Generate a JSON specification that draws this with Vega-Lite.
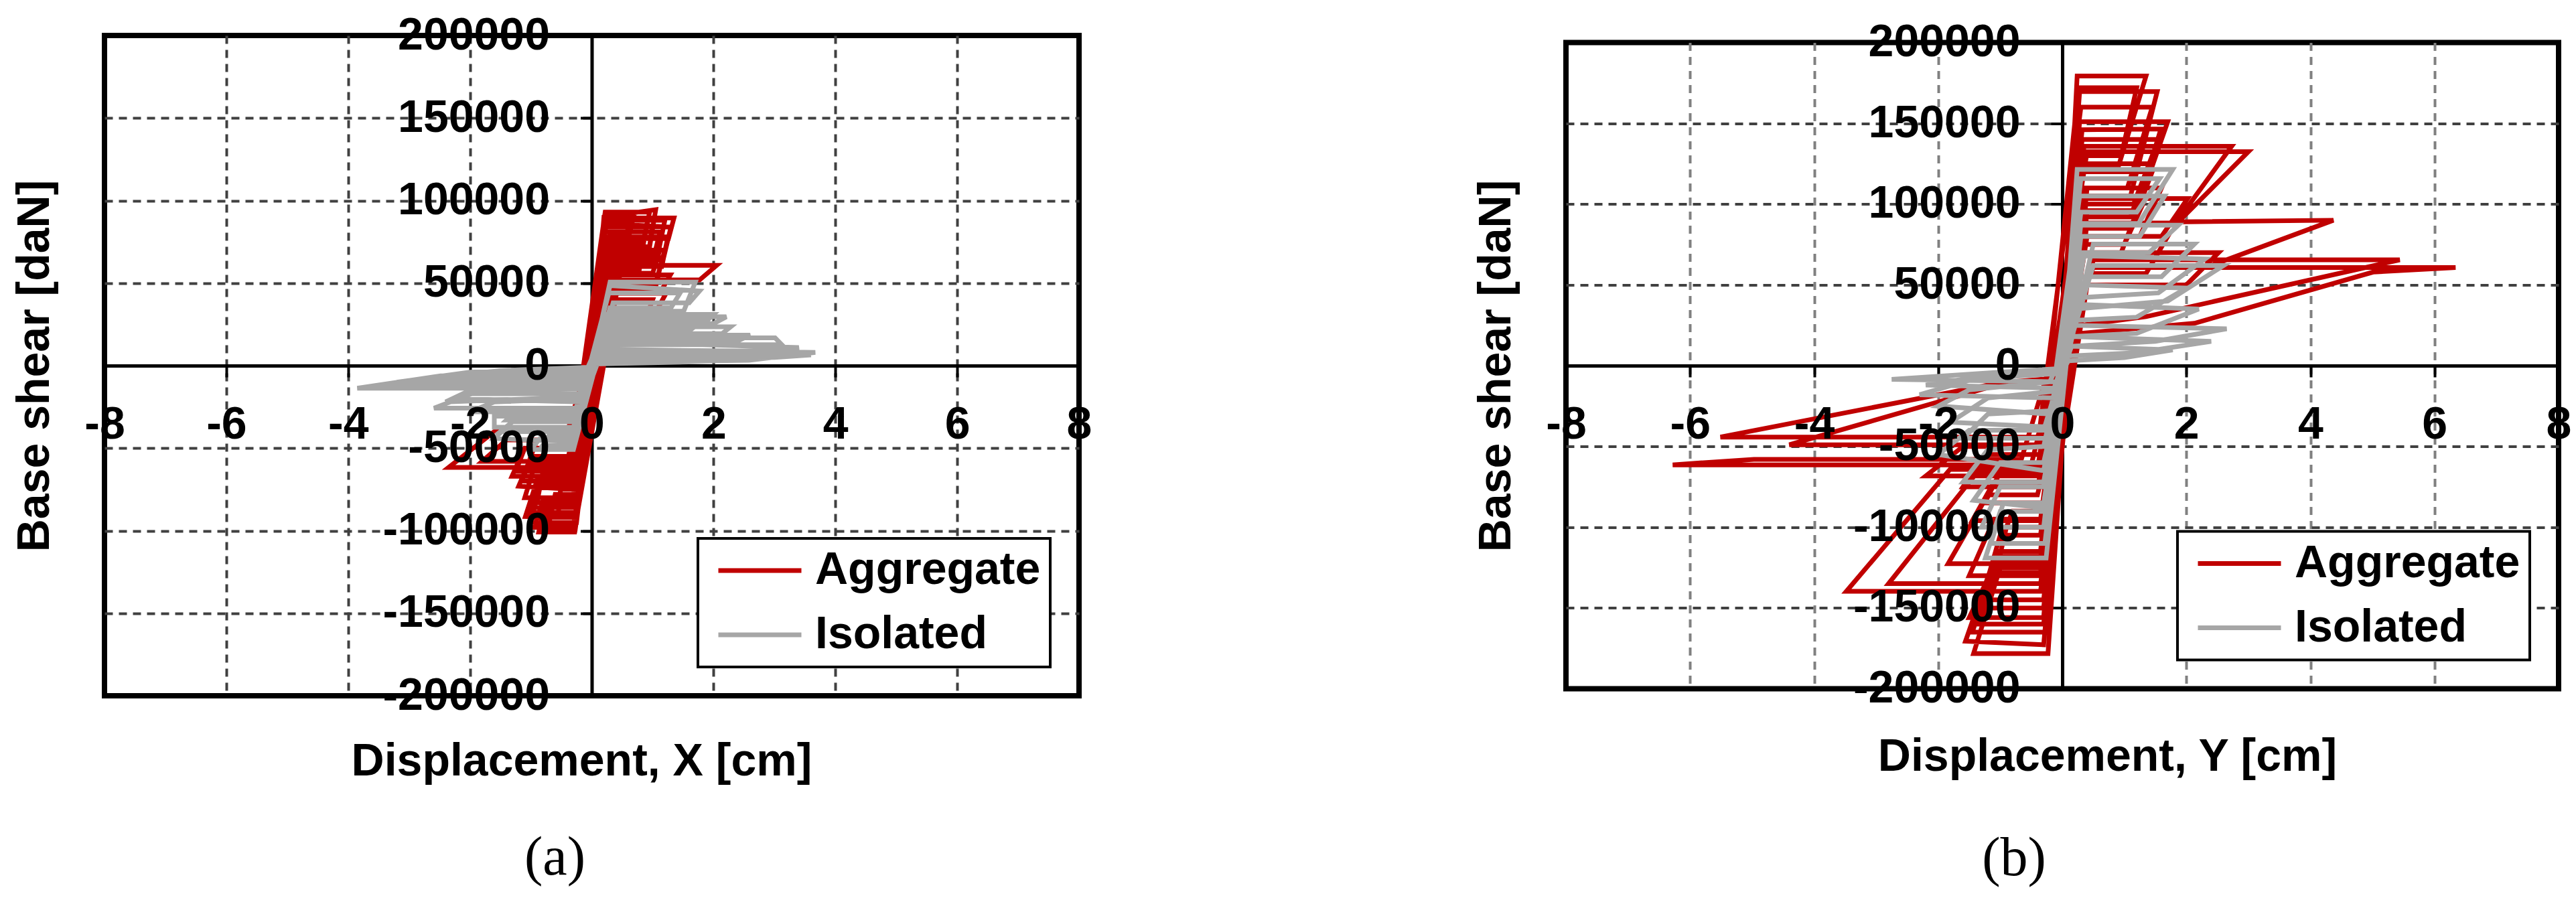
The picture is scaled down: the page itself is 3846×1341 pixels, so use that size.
{
 "$schema": "https://vega.github.io/schema/vega-lite/v6.json",
 "background": "white",
 "padding": {"left": 14, "top": 15, "right": 0, "bottom": 0},
 "config": {
  "view": {"stroke": "black", "strokeWidth": 8},
  "font": "Liberation Sans",
  "legend": {"orient": "bottom-right", "offset": 43, "title": null, "symbolType": "stroke", "symbolSize": 15376, "symbolStrokeWidth": 7, "symbolOffset": 13, "clipHeight": 68, "labelFont": "Liberation Sans", "labelFontSize": 68, "labelFontWeight": "bold", "labelColor": "black", "labelOffset": 17, "rowPadding": 28, "padding": 14, "strokeColor": "black", "strokeWidth": 4, "fillColor": "white", "labelLimit": 0}
 },
 "datasets": {
  "aA": [
   {"i":0,"x":0,"y":0},
   {"i":1,"x":0.20,"y":90000},{"i":2,"x":1.05,"y":94500},{"i":3,"x":0.95,"y":72000},{"i":4,"x":0.40,"y":72000},{"i":5,"x":-0.28,"y":-100800},{"i":6,"x":-0.87,"y":-100800},{"i":7,"x":-0.75,"y":-80000},{"i":8,"x":-0.30,"y":-80000},
   {"i":9,"x":0.22,"y":89500},{"i":10,"x":1.35,"y":89500},{"i":11,"x":1.26,"y":77000},{"i":12,"x":0.45,"y":77000},{"i":13,"x":-0.30,"y":-97000},{"i":14,"x":-1.00,"y":-95000},{"i":15,"x":-0.85,"y":-72000},{"i":16,"x":-0.32,"y":-72000},
   {"i":17,"x":0.22,"y":86000},{"i":18,"x":1.30,"y":84000},{"i":19,"x":1.18,"y":65400},{"i":20,"x":0.35,"y":65400},{"i":21,"x":-0.25,"y":-92000},{"i":22,"x":-1.09,"y":-91400},{"i":23,"x":-0.90,"y":-69800},{"i":24,"x":-0.35,"y":-69800},
   {"i":25,"x":0.20,"y":81000},{"i":26,"x":1.12,"y":81000},{"i":27,"x":1.00,"y":63000},{"i":28,"x":0.50,"y":63000},{"i":29,"x":-0.22,"y":-86000},{"i":30,"x":-0.95,"y":-86000},{"i":31,"x":-0.80,"y":-66000},{"i":32,"x":-0.30,"y":-66000},
   {"i":33,"x":0.28,"y":60700},{"i":34,"x":2.05,"y":60700},{"i":35,"x":1.77,"y":51900},{"i":36,"x":0.40,"y":51900},{"i":37,"x":-0.30,"y":-67000},{"i":38,"x":-1.31,"y":-67000},{"i":39,"x":-1.20,"y":-58000},{"i":40,"x":-0.40,"y":-58000},
   {"i":41,"x":0.25,"y":55000},{"i":42,"x":1.29,"y":55000},{"i":43,"x":1.15,"y":46000},{"i":44,"x":0.30,"y":46000},{"i":45,"x":-0.25,"y":-61700},{"i":46,"x":-2.35,"y":-61700},{"i":47,"x":-1.60,"y":-40000},{"i":48,"x":-0.40,"y":-40000},
   {"i":49,"x":0.27,"y":43800},{"i":50,"x":1.22,"y":43800},{"i":51,"x":1.08,"y":34400},{"i":52,"x":0.27,"y":34400},{"i":53,"x":-0.30,"y":-80000},{"i":54,"x":-1.10,"y":-80000},{"i":55,"x":-0.95,"y":-62000},{"i":56,"x":-0.40,"y":-62000},
   {"i":57,"x":0.24,"y":74000},{"i":58,"x":0.85,"y":74000},{"i":59,"x":0.78,"y":58000},{"i":60,"x":0.30,"y":58000},{"i":61,"x":-0.30,"y":-55000},{"i":62,"x":-1.00,"y":-55000},{"i":63,"x":-0.90,"y":-45000},{"i":64,"x":-0.30,"y":-45000},
   {"i":65,"x":0.22,"y":92000},{"i":66,"x":0.70,"y":92000},{"i":67,"x":0.62,"y":80000},{"i":68,"x":0.30,"y":80000},{"i":69,"x":-0.25,"y":-95000},{"i":70,"x":-0.70,"y":-95000},{"i":71,"x":-0.60,"y":-78000},{"i":72,"x":-0.30,"y":-78000},
   {"i":73,"x":0.25,"y":68000},{"i":74,"x":1.10,"y":68000},{"i":75,"x":1.00,"y":56000},{"i":76,"x":0.40,"y":56000},{"i":77,"x":-0.28,"y":-75000},{"i":78,"x":-1.20,"y":-73000},{"i":79,"x":-1.05,"y":-60000},{"i":80,"x":-0.35,"y":-60000},
   {"i":81,"x":0.21,"y":88000},{"i":82,"x":1.20,"y":88000},{"i":83,"x":1.10,"y":70000},{"i":84,"x":0.35,"y":70000},{"i":85,"x":-0.27,"y":-99000},{"i":86,"x":-0.80,"y":-99000},{"i":87,"x":-0.70,"y":-84000},{"i":88,"x":-0.30,"y":-84000},
   {"i":89,"x":0.23,"y":84000},{"i":90,"x":1.00,"y":84000},{"i":91,"x":0.92,"y":66000},{"i":92,"x":0.40,"y":66000},{"i":93,"x":-0.26,"y":-89000},{"i":94,"x":-1.02,"y":-89000},{"i":95,"x":-0.88,"y":-74000},{"i":96,"x":-0.30,"y":-74000},
   {"i":97,"x":0.24,"y":78000},{"i":98,"x":1.25,"y":78000},{"i":99,"x":1.15,"y":60000},{"i":100,"x":0.30,"y":60000},{"i":101,"x":-0.30,"y":-83000},{"i":102,"x":-0.90,"y":-83000},{"i":103,"x":-0.80,"y":-64000},{"i":104,"x":-0.35,"y":-64000},
   {"i":105,"x":0.25,"y":70000},{"i":106,"x":1.20,"y":70000},{"i":107,"x":1.05,"y":50000},{"i":108,"x":0.30,"y":50000},{"i":109,"x":-0.30,"y":-70000},{"i":110,"x":-1.15,"y":-70000},{"i":111,"x":-1.00,"y":-56000},{"i":112,"x":-0.35,"y":-56000},
   {"i":113,"x":0.22,"y":93000},{"i":114,"x":0.95,"y":93000},{"i":115,"x":0.85,"y":76000},{"i":116,"x":0.35,"y":76000},{"i":117,"x":-0.28,"y":-98000},{"i":118,"x":-0.95,"y":-98000},{"i":119,"x":-0.80,"y":-82000},{"i":120,"x":-0.30,"y":-82000},
   {"i":121,"x":0.26,"y":64000},{"i":122,"x":1.15,"y":64000},{"i":123,"x":1.05,"y":48000},{"i":124,"x":0.30,"y":48000},{"i":125,"x":-0.30,"y":-64000},{"i":126,"x":-1.25,"y":-64000},{"i":127,"x":-1.10,"y":-50000},{"i":128,"x":-0.35,"y":-50000},
   {"i":129,"x":0.24,"y":87000},{"i":130,"x":0.60,"y":87000},{"i":131,"x":0.55,"y":62000},{"i":132,"x":0.25,"y":62000},{"i":133,"x":-0.25,"y":-90000},{"i":134,"x":-0.55,"y":-90000},{"i":135,"x":-0.50,"y":-70000},{"i":136,"x":-0.28,"y":-70000},
   {"i":137,"x":0.28,"y":40000},{"i":138,"x":1.00,"y":40000},{"i":139,"x":0.90,"y":30000},{"i":140,"x":0.25,"y":30000},{"i":141,"x":-0.25,"y":-58000},{"i":142,"x":-1.80,"y":-58000},{"i":143,"x":-1.40,"y":-45000},{"i":144,"x":-0.30,"y":-45000},
   {"i":145,"x":0,"y":0}
  ],
  "aI": [
   {"i":0,"x":0,"y":0},
   {"i":1,"x":0.30,"y":50600},{"i":2,"x":1.70,"y":50600},{"i":3,"x":1.51,"y":33000},{"i":4,"x":0.30,"y":33000},{"i":5,"x":-0.30,"y":-50800},{"i":6,"x":-1.00,"y":-50800},{"i":7,"x":-0.85,"y":-44100},{"i":8,"x":-0.30,"y":-44100},
   {"i":9,"x":0.30,"y":48500},{"i":10,"x":1.77,"y":45200},{"i":11,"x":1.60,"y":38000},{"i":12,"x":0.35,"y":38000},{"i":13,"x":-0.30,"y":-46000},{"i":14,"x":-1.60,"y":-44100},{"i":15,"x":-1.40,"y":-37300},{"i":16,"x":-0.30,"y":-37300},
   {"i":17,"x":0.28,"y":44000},{"i":18,"x":1.45,"y":44000},{"i":19,"x":1.30,"y":35000},{"i":20,"x":0.30,"y":35000},{"i":21,"x":-0.25,"y":-37300},{"i":22,"x":-1.60,"y":-37300},{"i":23,"x":-1.60,"y":-30600},{"i":24,"x":-0.30,"y":-30600},
   {"i":25,"x":0.22,"y":29600},{"i":26,"x":2.21,"y":29600},{"i":27,"x":2.00,"y":25500},{"i":28,"x":0.25,"y":25500},{"i":29,"x":-0.20,"y":-25800},{"i":30,"x":-2.59,"y":-25800},{"i":31,"x":-1.97,"y":-17000},{"i":32,"x":-0.20,"y":-17000},
   {"i":33,"x":0.20,"y":23500},{"i":34,"x":2.28,"y":23500},{"i":35,"x":2.14,"y":19400},{"i":36,"x":0.25,"y":19400},{"i":37,"x":-0.15,"y":-13700},{"i":38,"x":-3.85,"y":-13700},{"i":39,"x":-2.48,"y":-6200},{"i":40,"x":-0.10,"y":-4000},
   {"i":41,"x":0.15,"y":16800},{"i":42,"x":3.01,"y":16800},{"i":43,"x":3.12,"y":12700},{"i":44,"x":0.20,"y":12700},{"i":45,"x":-0.20,"y":-22000},{"i":46,"x":-2.20,"y":-20000},{"i":47,"x":-1.80,"y":-12000},{"i":48,"x":-0.20,"y":-10000},
   {"i":49,"x":0.12,"y":10000},{"i":50,"x":3.67,"y":8000},{"i":51,"x":2.58,"y":3200},{"i":52,"x":0.10,"y":2000},{"i":53,"x":-0.25,"y":-33000},{"i":54,"x":-1.40,"y":-33000},{"i":55,"x":-1.20,"y":-26000},{"i":56,"x":-0.25,"y":-26000},
   {"i":57,"x":0.25,"y":27000},{"i":58,"x":1.80,"y":27000},{"i":59,"x":1.60,"y":21000},{"i":60,"x":0.20,"y":21000},{"i":61,"x":-0.10,"y":-9000},{"i":62,"x":-3.20,"y":-10000},{"i":63,"x":-2.00,"y":-4000},{"i":64,"x":-0.05,"y":-1500},
   {"i":65,"x":0.18,"y":21000},{"i":66,"x":2.60,"y":18500},{"i":67,"x":2.40,"y":15000},{"i":68,"x":0.15,"y":14500},{"i":69,"x":-0.15,"y":-12000},{"i":70,"x":-3.50,"y":-12000},{"i":71,"x":-2.60,"y":-9000},{"i":72,"x":-0.10,"y":-7000},
   {"i":73,"x":0.15,"y":14500},{"i":74,"x":3.40,"y":11000},{"i":75,"x":3.20,"y":9000},{"i":76,"x":0.12,"y":8500},{"i":77,"x":-0.18,"y":-19000},{"i":78,"x":-2.40,"y":-22000},{"i":79,"x":-2.00,"y":-15000},{"i":80,"x":-0.15,"y":-14000},
   {"i":81,"x":0.12,"y":8500},{"i":82,"x":3.60,"y":6500},{"i":83,"x":3.00,"y":5000},{"i":84,"x":0.08,"y":4000},{"i":85,"x":-0.20,"y":-28000},{"i":86,"x":-2.00,"y":-28000},{"i":87,"x":-1.60,"y":-22000},{"i":88,"x":-0.20,"y":-20000},
   {"i":89,"x":0.26,"y":31000},{"i":90,"x":2.00,"y":31000},{"i":91,"x":1.90,"y":27500},{"i":92,"x":0.22,"y":27500},{"i":93,"x":-0.30,"y":-40000},{"i":94,"x":-1.50,"y":-40000},{"i":95,"x":-1.30,"y":-34000},{"i":96,"x":-0.25,"y":-34000},
   {"i":97,"x":0.20,"y":18000},{"i":98,"x":2.50,"y":18000},{"i":99,"x":2.30,"y":14000},{"i":100,"x":0.18,"y":14000},{"i":101,"x":-0.10,"y":-6000},{"i":102,"x":-2.80,"y":-8000},{"i":103,"x":-1.50,"y":-3000},{"i":104,"x":-0.05,"y":-1000},
   {"i":105,"x":0.10,"y":6000},{"i":106,"x":2.90,"y":5500},{"i":107,"x":2.00,"y":2500},{"i":108,"x":0.05,"y":1000},{"i":109,"x":-0.28,"y":-48000},{"i":110,"x":-0.80,"y":-48000},{"i":111,"x":-0.70,"y":-42000},{"i":112,"x":-0.25,"y":-42000},
   {"i":113,"x":0,"y":0}
  ],
  "bA": [
   {"i":0,"x":0,"y":0},
   {"i":1,"x":0.24,"y":179300},{"i":2,"x":1.35,"y":179300},{"i":3,"x":0.90,"y":122700},{"i":4,"x":0.30,"y":122700},{"i":5,"x":-0.23,"y":-178200},{"i":6,"x":-1.43,"y":-178200},{"i":7,"x":-1.00,"y":-125000},{"i":8,"x":-0.30,"y":-125000},
   {"i":9,"x":0.28,"y":169600},{"i":10,"x":1.53,"y":169600},{"i":11,"x":1.10,"y":105000},{"i":12,"x":0.35,"y":105000},{"i":13,"x":-0.30,"y":-172800},{"i":14,"x":-1.56,"y":-170600},{"i":15,"x":-1.10,"y":-120000},{"i":16,"x":-0.35,"y":-120000},
   {"i":17,"x":0.28,"y":151000},{"i":18,"x":1.70,"y":151000},{"i":19,"x":1.20,"y":96000},{"i":20,"x":0.40,"y":96000},{"i":21,"x":-0.30,"y":-160000},{"i":22,"x":-1.35,"y":-160000},{"i":23,"x":-1.00,"y":-115000},{"i":24,"x":-0.35,"y":-115000},
   {"i":25,"x":0.32,"y":146000},{"i":26,"x":1.59,"y":146500},{"i":27,"x":1.30,"y":110000},{"i":28,"x":0.40,"y":110000},{"i":29,"x":-0.30,"y":-150000},{"i":30,"x":-1.20,"y":-150000},{"i":31,"x":-0.90,"y":-100000},{"i":32,"x":-0.35,"y":-100000},
   {"i":33,"x":0.35,"y":135800},{"i":34,"x":2.73,"y":135800},{"i":35,"x":1.83,"y":88300},{"i":36,"x":0.40,"y":88300},{"i":37,"x":-0.35,"y":-139700},{"i":38,"x":-3.48,"y":-139700},{"i":39,"x":-1.81,"y":-64200},{"i":40,"x":-0.40,"y":-64200},
   {"i":41,"x":0.40,"y":132400},{"i":42,"x":3.00,"y":132400},{"i":43,"x":1.87,"y":89000},{"i":44,"x":4.37,"y":90000},{"i":45,"x":2.40,"y":62000},{"i":46,"x":0.45,"y":62000},{"i":47,"x":-0.35,"y":-134900},{"i":48,"x":-2.80,"y":-134900},{"i":49,"x":-1.39,"y":-66900},{"i":50,"x":-0.40,"y":-66900},
   {"i":51,"x":0.30,"y":120000},{"i":52,"x":1.45,"y":120000},{"i":53,"x":1.10,"y":85000},{"i":54,"x":0.35,"y":85000},{"i":55,"x":-0.30,"y":-122600},{"i":56,"x":-1.84,"y":-122600},{"i":57,"x":-1.20,"y":-80000},{"i":58,"x":-0.40,"y":-80000},
   {"i":59,"x":0.50,"y":65500},{"i":60,"x":5.44,"y":65500},{"i":61,"x":1.35,"y":30300},{"i":62,"x":0.30,"y":25000},{"i":63,"x":-0.40,"y":-44200},{"i":64,"x":-5.51,"y":-44200},{"i":65,"x":-1.00,"y":-10600},{"i":66,"x":-0.20,"y":-8000},
   {"i":67,"x":0.50,"y":60700},{"i":68,"x":6.34,"y":60700},{"i":69,"x":5.01,"y":57900},{"i":70,"x":2.13,"y":26200},{"i":71,"x":0.30,"y":20000},{"i":72,"x":-0.40,"y":-49000},{"i":73,"x":-4.40,"y":-49000},{"i":74,"x":-1.10,"y":-12500},{"i":75,"x":-0.20,"y":-9000},
   {"i":76,"x":0.30,"y":103400},{"i":77,"x":2.02,"y":103400},{"i":78,"x":1.60,"y":80000},{"i":79,"x":0.40,"y":80000},{"i":80,"x":-0.50,"y":-61400},{"i":81,"x":-6.28,"y":-61400},{"i":82,"x":-4.97,"y":-58000},{"i":83,"x":-0.66,"y":-58000},
   {"i":84,"x":0.35,"y":70000},{"i":85,"x":2.52,"y":70000},{"i":86,"x":2.00,"y":50000},{"i":87,"x":0.40,"y":50000},{"i":88,"x":-0.30,"y":-110000},{"i":89,"x":-1.00,"y":-110000},{"i":90,"x":-0.80,"y":-90000},{"i":91,"x":-0.30,"y":-90000},
   {"i":92,"x":0.30,"y":95000},{"i":93,"x":1.20,"y":95000},{"i":94,"x":0.95,"y":70000},{"i":95,"x":0.30,"y":70000},{"i":96,"x":-0.30,"y":-68300},{"i":97,"x":-2.20,"y":-68300},{"i":98,"x":-1.60,"y":-50000},{"i":99,"x":-0.40,"y":-50000},
   {"i":100,"x":0.30,"y":160000},{"i":101,"x":1.45,"y":160000},{"i":102,"x":1.05,"y":110000},{"i":103,"x":0.35,"y":110000},{"i":104,"x":-0.28,"y":-165000},{"i":105,"x":-1.45,"y":-165000},{"i":106,"x":-1.05,"y":-118000},{"i":107,"x":-0.33,"y":-118000},
   {"i":108,"x":0.32,"y":140000},{"i":109,"x":1.55,"y":140000},{"i":110,"x":1.15,"y":100000},{"i":111,"x":0.38,"y":100000},{"i":112,"x":-0.30,"y":-145000},{"i":113,"x":-1.30,"y":-145000},{"i":114,"x":-1.00,"y":-105000},{"i":115,"x":-0.35,"y":-105000},
   {"i":116,"x":0.33,"y":125000},{"i":117,"x":1.40,"y":125000},{"i":118,"x":1.10,"y":92000},{"i":119,"x":0.38,"y":92000},{"i":120,"x":-0.30,"y":-130000},{"i":121,"x":-1.50,"y":-130000},{"i":122,"x":-1.10,"y":-95000},{"i":123,"x":-0.35,"y":-95000},
   {"i":124,"x":0.35,"y":110000},{"i":125,"x":1.60,"y":110000},{"i":126,"x":1.25,"y":80000},{"i":127,"x":0.40,"y":80000},{"i":128,"x":-0.33,"y":-96000},{"i":129,"x":-1.45,"y":-96000},{"i":130,"x":-1.10,"y":-72000},{"i":131,"x":-0.38,"y":-72000},
   {"i":132,"x":0.35,"y":100000},{"i":133,"x":1.30,"y":100000},{"i":134,"x":1.00,"y":75000},{"i":135,"x":0.35,"y":75000},{"i":136,"x":-0.30,"y":-85000},{"i":137,"x":-1.25,"y":-85000},{"i":138,"x":-0.95,"y":-62000},{"i":139,"x":-0.35,"y":-62000},
   {"i":140,"x":0.40,"y":80000},{"i":141,"x":1.70,"y":80000},{"i":142,"x":1.35,"y":57000},{"i":143,"x":0.40,"y":57000},{"i":144,"x":-0.28,"y":-75000},{"i":145,"x":-1.60,"y":-75000},{"i":146,"x":-1.25,"y":-55000},{"i":147,"x":-0.35,"y":-55000},
   {"i":148,"x":0.26,"y":172000},{"i":149,"x":1.20,"y":172000},{"i":150,"x":0.95,"y":130000},{"i":151,"x":0.30,"y":130000},{"i":152,"x":-0.30,"y":-156000},{"i":153,"x":-1.50,"y":-156000},{"i":154,"x":-1.15,"y":-128000},{"i":155,"x":-0.35,"y":-128000},
   {"i":156,"x":0,"y":0}
  ],
  "bI": [
   {"i":0,"x":0,"y":0},
   {"i":1,"x":0.24,"y":121400},{"i":2,"x":1.78,"y":121400},{"i":3,"x":1.23,"y":88000},{"i":4,"x":0.30,"y":88000},{"i":5,"x":-0.26,"y":-119100},{"i":6,"x":-1.24,"y":-119100},{"i":7,"x":-1.00,"y":-90300},{"i":8,"x":-0.30,"y":-90300},
   {"i":9,"x":0.30,"y":115800},{"i":10,"x":1.57,"y":115800},{"i":11,"x":1.20,"y":95000},{"i":12,"x":0.30,"y":95000},{"i":13,"x":-0.30,"y":-100000},{"i":14,"x":-1.30,"y":-100000},{"i":15,"x":-1.00,"y":-75000},{"i":16,"x":-0.30,"y":-75000},
   {"i":17,"x":0.24,"y":86900},{"i":18,"x":1.87,"y":86900},{"i":19,"x":1.40,"y":70000},{"i":20,"x":0.30,"y":70000},{"i":21,"x":-0.30,"y":-88000},{"i":22,"x":-1.43,"y":-83400},{"i":23,"x":-1.00,"y":-60000},{"i":24,"x":-0.30,"y":-60000},
   {"i":25,"x":0.50,"y":75200},{"i":26,"x":2.13,"y":75200},{"i":27,"x":1.60,"y":55000},{"i":28,"x":0.30,"y":55000},{"i":29,"x":-0.30,"y":-65000},{"i":30,"x":-2.00,"y":-55000},{"i":31,"x":-1.50,"y":-40000},{"i":32,"x":-0.30,"y":-40000},
   {"i":33,"x":0.50,"y":62000},{"i":34,"x":2.60,"y":62000},{"i":35,"x":1.70,"y":40000},{"i":36,"x":0.20,"y":35000},{"i":37,"x":-0.25,"y":-45000},{"i":38,"x":-1.60,"y":-45000},{"i":39,"x":-1.20,"y":-30000},{"i":40,"x":-0.20,"y":-28000},
   {"i":41,"x":0.30,"y":50000},{"i":42,"x":2.00,"y":48000},{"i":43,"x":1.20,"y":30000},{"i":44,"x":0.20,"y":28000},{"i":45,"x":-0.20,"y":-30000},{"i":46,"x":-2.00,"y":-25000},{"i":47,"x":-1.50,"y":-15000},{"i":48,"x":-0.20,"y":-10000},
   {"i":49,"x":0.20,"y":25000},{"i":50,"x":2.65,"y":22800},{"i":51,"x":1.50,"y":15000},{"i":52,"x":0.15,"y":12000},{"i":53,"x":-0.15,"y":-20000},{"i":54,"x":-2.30,"y":-18000},{"i":55,"x":-1.40,"y":-8000},{"i":56,"x":-0.10,"y":-5000},
   {"i":57,"x":0.15,"y":12000},{"i":58,"x":1.78,"y":9700},{"i":59,"x":1.00,"y":5000},{"i":60,"x":0.10,"y":3000},{"i":61,"x":-0.10,"y":-10000},{"i":62,"x":-2.75,"y":-8500},{"i":63,"x":-1.00,"y":-4000},{"i":64,"x":-0.10,"y":-2000},
   {"i":65,"x":0.28,"y":105000},{"i":66,"x":1.65,"y":105000},{"i":67,"x":1.25,"y":80000},{"i":68,"x":0.30,"y":80000},{"i":69,"x":-0.28,"y":-110000},{"i":70,"x":-1.15,"y":-110000},{"i":71,"x":-0.95,"y":-85000},{"i":72,"x":-0.30,"y":-85000},
   {"i":73,"x":0.35,"y":68000},{"i":74,"x":2.30,"y":66000},{"i":75,"x":1.55,"y":45000},{"i":76,"x":0.25,"y":42000},{"i":77,"x":-0.30,"y":-72000},{"i":78,"x":-1.60,"y":-72000},{"i":79,"x":-1.20,"y":-52000},{"i":80,"x":-0.30,"y":-50000},
   {"i":81,"x":0.20,"y":38000},{"i":82,"x":2.20,"y":35000},{"i":83,"x":1.20,"y":20000},{"i":84,"x":0.15,"y":18000},{"i":85,"x":-0.20,"y":-38000},{"i":86,"x":-1.80,"y":-35000},{"i":87,"x":-1.20,"y":-20000},{"i":88,"x":-0.15,"y":-16000},
   {"i":89,"x":0.15,"y":18000},{"i":90,"x":2.40,"y":15000},{"i":91,"x":1.20,"y":8000},{"i":92,"x":0.10,"y":6000},{"i":93,"x":-0.10,"y":-14000},{"i":94,"x":-2.20,"y":-12000},{"i":95,"x":-1.20,"y":-6000},{"i":96,"x":-0.05,"y":-3000},
   {"i":97,"x":0,"y":0}
  ]
 },
 "hconcat": [
  {
   "width": 1455, "height": 986,
   "title": {"text": "(a)", "orient": "bottom", "frame": "group", "anchor": "middle", "font": "Liberation Serif", "fontSize": 82, "fontWeight": "normal", "color": "black", "dx": -55, "offset": 70},
   "layer": [
    {"data": {"name": "aA"}, "mark": {"type": "line", "strokeWidth": 7},
     "encoding": {
      "x": {"field": "x", "type": "quantitative", "scale": {"domain": [-8, 8], "nice": false, "zero": false},
            "axis": {"orient": "bottom", "values": [-6,-4,-2,2,4,6], "grid": true, "gridColor": "#404040", "gridDash": [12, 9], "gridWidth": 4, "labels": false, "ticks": false, "domain": false, "minExtent": 0, "zindex": 0,
                     "title": "Displacement, X [cm]", "titleFont": "Liberation Sans", "titleFontSize": 68, "titleFontWeight": "bold", "titleColor": "black", "titlePadding": 64, "titleX": 712}},
      "y": {"field": "y", "type": "quantitative", "scale": {"domain": [-200000, 200000], "nice": false, "zero": false},
            "axis": {"orient": "left", "values": [-150000,-100000,-50000,50000,100000,150000], "grid": true, "gridColor": "#404040", "gridDash": [12, 9], "gridWidth": 4, "labels": false, "ticks": false, "domain": false, "minExtent": 0, "zindex": 0,
                     "title": "Base shear [daN]", "titleFont": "Liberation Sans", "titleFontSize": 68, "titleFontWeight": "bold", "titleColor": "black", "titlePadding": 70}},
      "order": {"field": "i", "type": "quantitative"},
      "color": {"datum": "Aggregate", "type": "nominal", "scale": {"domain": ["Aggregate", "Isolated"], "range": ["#C00000", "#A6A6A6"]}}
     }},
    {"data": {"name": "aI"}, "mark": {"type": "line", "strokeWidth": 7},
     "encoding": {
      "x": {"field": "x", "type": "quantitative",
            "axis": {"orient": "bottom", "offset": -493, "values": [-8,-6,-4,-2,0,2,4,6,8], "grid": false, "domain": true, "domainColor": "black", "domainWidth": 5, "ticks": true, "tickColor": "black", "tickWidth": 4, "tickSize": 17, "labels": false, "title": null, "zindex": 0}},
      "y": {"field": "y", "type": "quantitative",
            "axis": {"orient": "left", "offset": -727.5, "values": [-200000,-150000,-100000,-50000,0,50000,100000,150000,200000], "grid": false, "domain": true, "domainColor": "black", "domainWidth": 5, "ticks": true, "tickColor": "black", "tickWidth": 4, "tickSize": 17, "labels": false, "title": null, "minExtent": 0, "zindex": 0}},
      "order": {"field": "i", "type": "quantitative"},
      "color": {"datum": "Isolated", "type": "nominal"}
     }},
    {"data": {"name": "aA"}, "mark": {"type": "point", "opacity": 0},
     "encoding": {
      "x": {"field": "x", "type": "quantitative",
            "axis": {"orient": "bottom", "offset": -493, "values": [-8,-6,-4,-2,0,2,4,6,8], "grid": false, "domain": false, "ticks": false, "tickSize": 0,
                     "labelFont": "Liberation Sans", "labelFontSize": 68, "labelFontWeight": "bold", "labelColor": "black", "labelPadding": 54, "labelFlush": false, "labelOverlap": false, "labelBound": false, "labelLimit": 0, "labelExpr": "'' + datum.value", "title": null, "zindex": 1}},
      "y": {"field": "y", "type": "quantitative",
            "axis": {"orient": "left", "offset": -727.5, "values": [-200000,-150000,-100000,-50000,0,50000,100000,150000,200000], "grid": false, "domain": false, "ticks": false, "tickSize": 0,
                     "labelFont": "Liberation Sans", "labelFontSize": 68, "labelFontWeight": "bold", "labelColor": "black", "labelPadding": 63, "labelFlush": false, "labelOverlap": false, "labelBound": false, "labelLimit": 0, "labelExpr": "'' + datum.value", "title": null, "minExtent": 0, "zindex": 1}}
     }}
   ],
   "resolve": {"axis": {"x": "independent", "y": "independent"}}
  },
  {
   "width": 1482, "height": 965,
   "title": {"text": "(b)", "orient": "bottom", "frame": "group", "anchor": "middle", "font": "Liberation Serif", "fontSize": 82, "fontWeight": "normal", "color": "black", "dx": -72, "offset": 77},
   "layer": [
    {"data": {"name": "bA"}, "mark": {"type": "line", "strokeWidth": 7},
     "encoding": {
      "x": {"field": "x", "type": "quantitative", "scale": {"domain": [-8, 8], "nice": false, "zero": false},
            "axis": {"orient": "bottom", "values": [-6,-4,-2,2,4,6], "grid": true, "gridColor": "#808080", "gridDash": [12, 9], "gridWidth": 4, "labels": false, "ticks": false, "domain": false, "minExtent": 0, "zindex": 0,
                     "title": "Displacement, Y [cm]", "titleFont": "Liberation Sans", "titleFontSize": 68, "titleFontWeight": "bold", "titleColor": "black", "titlePadding": 68, "titleX": 808}},
      "y": {"field": "y", "type": "quantitative", "scale": {"domain": [-200000, 200000], "nice": false, "zero": false},
            "axis": {"orient": "left", "values": [-150000,-100000,-50000,50000,100000,150000], "grid": true, "gridColor": "#404040", "gridDash": [12, 9], "gridWidth": 4, "labels": false, "ticks": false, "domain": false, "minExtent": 0, "zindex": 0,
                     "title": "Base shear [daN]", "titleFont": "Liberation Sans", "titleFontSize": 68, "titleFontWeight": "bold", "titleColor": "black", "titlePadding": 70}},
      "order": {"field": "i", "type": "quantitative"},
      "color": {"datum": "Aggregate", "type": "nominal", "scale": {"domain": ["Aggregate", "Isolated"], "range": ["#C00000", "#A6A6A6"]}}
     }},
    {"data": {"name": "bI"}, "mark": {"type": "line", "strokeWidth": 7},
     "encoding": {
      "x": {"field": "x", "type": "quantitative",
            "axis": {"orient": "bottom", "offset": -482.5, "values": [-8,-6,-4,-2,0,2,4,6,8], "grid": false, "domain": true, "domainColor": "black", "domainWidth": 5, "ticks": true, "tickColor": "black", "tickWidth": 4, "tickSize": 17, "labels": false, "title": null, "zindex": 0}},
      "y": {"field": "y", "type": "quantitative",
            "axis": {"orient": "left", "offset": -741, "values": [-200000,-150000,-100000,-50000,0,50000,100000,150000,200000], "grid": false, "domain": true, "domainColor": "black", "domainWidth": 5, "ticks": true, "tickColor": "black", "tickWidth": 4, "tickSize": 17, "labels": false, "title": null, "minExtent": 0, "zindex": 0}},
      "order": {"field": "i", "type": "quantitative"},
      "color": {"datum": "Isolated", "type": "nominal"}
     }},
    {"data": {"name": "bA"}, "mark": {"type": "point", "opacity": 0},
     "encoding": {
      "x": {"field": "x", "type": "quantitative",
            "axis": {"orient": "bottom", "offset": -482.5, "values": [-8,-6,-4,-2,0,2,4,6,8], "grid": false, "domain": false, "ticks": false, "tickSize": 0,
                     "labelFont": "Liberation Sans", "labelFontSize": 68, "labelFontWeight": "bold", "labelColor": "black", "labelPadding": 54, "labelFlush": false, "labelOverlap": false, "labelBound": false, "labelLimit": 0, "labelExpr": "'' + datum.value", "title": null, "zindex": 1}},
      "y": {"field": "y", "type": "quantitative",
            "axis": {"orient": "left", "offset": -741, "values": [-200000,-150000,-100000,-50000,0,50000,100000,150000,200000], "grid": false, "domain": false, "ticks": false, "tickSize": 0,
                     "labelFont": "Liberation Sans", "labelFontSize": 68, "labelFontWeight": "bold", "labelColor": "black", "labelPadding": 63, "labelFlush": false, "labelOverlap": false, "labelBound": false, "labelLimit": 0, "labelExpr": "'' + datum.value", "title": null, "minExtent": 0, "zindex": 1}}
     }}
   ],
   "resolve": {"axis": {"x": "independent", "y": "independent"}}
  }
 ],
 "spacing": 727,
 "bounds": "flush",
 "center": true,
 "resolve": {"scale": {"color": "independent"}}
}
